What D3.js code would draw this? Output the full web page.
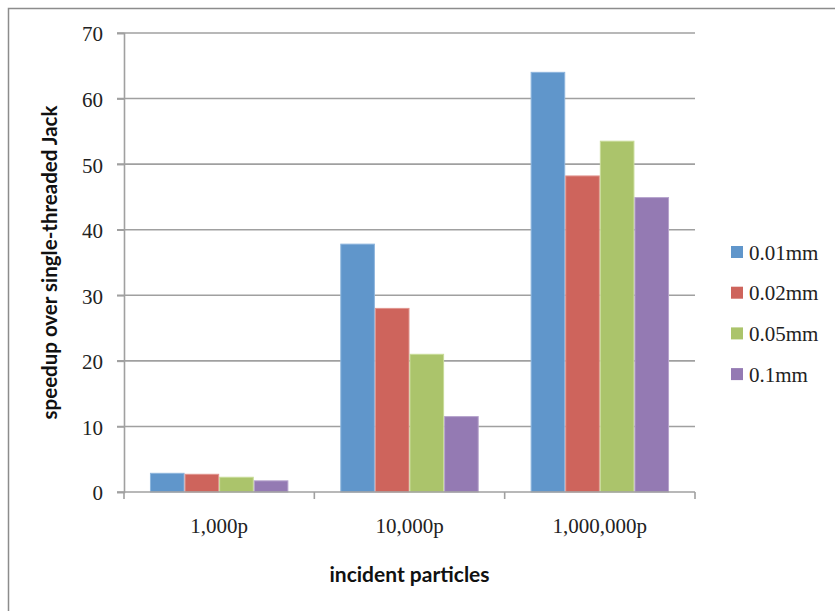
<!DOCTYPE html>
<html>
<head>
<meta charset="utf-8">
<script src="https://cdn.jsdelivr.net/npm/d3@7"></script>
<style>
  html, body { margin: 0; padding: 0; background: #fff; }
  svg { display: block; }
</style>
</head>
<body>
<svg id="chart" width="835" height="611"></svg>
<script>
// Speedup data per particle count and mesh resolution
const categories = ["1,000p", "10,000p", "1,000,000p"];
const seriesNames = ["0.01mm", "0.02mm", "0.05mm", "0.1mm"];
const s001 = [2.85, 37.8, 64.0];
const s002 = [2.7, 28.0, 48.2];
const s005 = [2.25, 21.0, 53.5];
const s01  = [1.7, 11.5, 44.9];
const seriesValues = [s001, s002, s005, s01];
const yTicks = [0, 10, 20, 30, 40, 50, 60, 70];
const colors = ["#6096cb", "#ce645c", "#abc46b", "#947ab3"];
const strokes = ["#8db5dd", "#e0948e", "#c8dc98", "#b6a3cc"];

const svg = d3.select("#chart");
const serif = "'Liberation Serif', 'Times New Roman', serif";
const sans = "Lato, 'Open Sans', sans-serif";
const axisColor = "#a0a0a0";

// outer chart frame
svg.append("rect")
  .attr("x", 8.5).attr("y", 8.5)
  .attr("width", 840).attr("height", 620)
  .attr("fill", "none").attr("stroke", "#8c8c8c").attr("stroke-width", 1.5);

const plot = { left: 124, right: 695, top: 33, bottom: 492 };

const x = d3.scaleBand().domain(categories).range([plot.left, plot.right]).paddingInner(0).paddingOuter(0);
const y = d3.scaleLinear().domain([0, 70]).range([plot.bottom, plot.top]);
// Excel-like 150% gap width: 4 bars + 1.5 bar widths per category
const barW = x.bandwidth() / 5.5;
const xs = d3.scaleBand().domain(seriesNames)
  .range([barW * 0.75, barW * 0.75 + barW * 4]).padding(0);

// horizontal gridlines with left tick stubs
svg.append("g").selectAll("line").data(yTicks.filter(d => d > 0)).join("line")
  .attr("x1", plot.left - 7).attr("x2", plot.right)
  .attr("y1", d => y(d)).attr("y2", d => y(d))
  .attr("stroke", axisColor).attr("stroke-width", 1.6);

// bars
const groups = svg.append("g").selectAll("g").data(categories).join("g")
  .attr("transform", d => `translate(${x(d)},0)`);
groups.selectAll("rect")
  .data((c, ci) => seriesNames.map((s, si) => ({ s, si, v: seriesValues[si][ci] })))
  .join("rect")
  .attr("x", d => xs(d.s) + 0.5)
  .attr("width", xs.bandwidth() - 1)
  .attr("y", d => y(d.v))
  .attr("height", d => y(0) - y(d.v))
  .attr("fill", d => colors[d.si])
  .attr("stroke", d => strokes[d.si])
  .attr("stroke-width", 1);

// y axis
const yAxis = svg.append("g").attr("transform", `translate(${plot.left},0)`)
  .call(d3.axisLeft(y).tickValues(yTicks).tickSize(7).tickPadding(14).tickFormat(d3.format("d")));
yAxis.select(".domain").attr("stroke", axisColor).attr("stroke-width", 1.6);
yAxis.selectAll(".tick line").attr("stroke", axisColor).attr("stroke-width", 1.6);
yAxis.selectAll(".tick text")
  .attr("font-family", serif).attr("font-size", 21).attr("fill", "#222")
  .attr("dy", "0.38em");

// x axis with boundary ticks between categories
const xAxisG = svg.append("g").attr("transform", `translate(0,${plot.bottom})`);
xAxisG.append("line")
  .attr("x1", plot.left - 7).attr("x2", plot.right)
  .attr("stroke", axisColor).attr("stroke-width", 1.6);
const bounds = categories.map(c => x(c)).concat([x(categories[categories.length - 1]) + x.bandwidth()]);
xAxisG.selectAll("line.bound").data(bounds).join("line").attr("class", "bound")
  .attr("x1", d => d).attr("x2", d => d).attr("y1", 0).attr("y2", 7)
  .attr("stroke", axisColor).attr("stroke-width", 1.6);
xAxisG.selectAll("text").data(categories).join("text")
  .attr("x", d => x(d) + x.bandwidth() / 2)
  .attr("y", 41)
  .attr("text-anchor", "middle")
  .attr("font-family", serif).attr("font-size", 21).attr("fill", "#222")
  .text(d => d);

// axis titles
svg.append("text")
  .attr("x", (plot.left + plot.right) / 2).attr("y", 582)
  .attr("text-anchor", "middle")
  .attr("font-family", sans).attr("font-weight", "bold").attr("font-size", 21)
  .attr("fill", "#111")
  .text("incident particles");
svg.append("text")
  .attr("transform", `translate(57,${(plot.top + plot.bottom) / 2}) rotate(-90)`)
  .attr("text-anchor", "middle")
  .attr("font-family", sans).attr("font-weight", "bold").attr("font-size", 20.5)
  .attr("fill", "#111")
  .text("speedup over single-threaded Jack");

// legend
const legend = svg.append("g").selectAll("g").data(seriesNames).join("g")
  .attr("transform", (d, i) => `translate(731,${252 + i * 40.7})`);
legend.append("rect")
  .attr("x", 0).attr("y", -6).attr("width", 12).attr("height", 12)
  .attr("fill", (d, i) => colors[i]);
legend.append("text")
  .attr("x", 18).attr("y", 0).attr("dy", "0.36em")
  .attr("font-family", serif).attr("font-size", 21).attr("fill", "#222")
  .text(d => d);
</script>
</body>
</html>
